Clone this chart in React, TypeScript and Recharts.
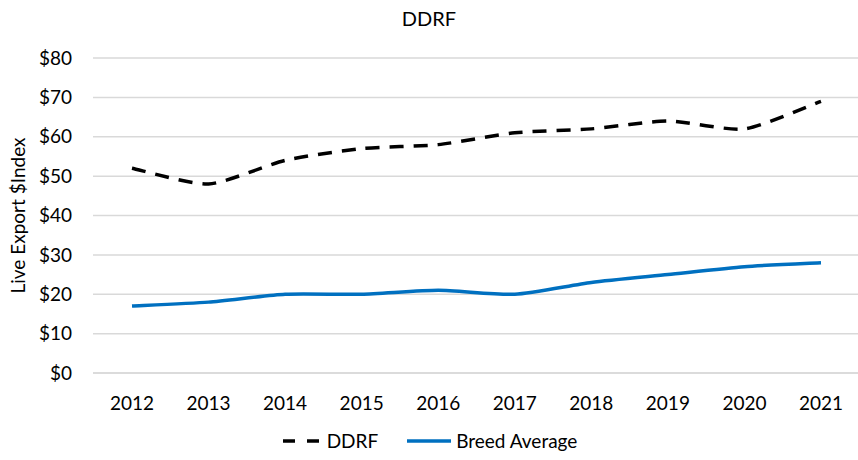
import { LineChart, Line, XAxis, YAxis, CartesianGrid } from 'recharts';

const years = ['2012', '2013', '2014', '2015', '2016', '2017', '2018', '2019', '2020', '2021'];
const ddrf = [52, 48, 54, 57, 58, 61, 62, 64, 62, 69];
const breedAverage = [17, 18, 20, 20, 21, 20, 23, 25, 27, 28];
const yTicks = [0, 10, 20, 30, 40, 50, 60, 70, 80];

const data = years.map((year, i) => ({ year, ddrf: ddrf[i], breed: breedAverage[i] }));

const FONT = 'Lato, "Liberation Sans", sans-serif';

// Excel-style smoothed line (light cardinal spline through every point)
const smoothCurve = (context: any) => {
  let pts: [number, number][] = [];
  let line = NaN;
  return {
    areaStart() { line = 0; },
    areaEnd() { line = NaN; },
    lineStart() { pts = []; },
    lineEnd() {
      if (!pts.length) return;
      context.moveTo(pts[0][0], pts[0][1]);
      const k = 0.11;
      for (let i = 0; i < pts.length - 1; i++) {
        const p0 = pts[Math.max(i - 1, 0)];
        const p1 = pts[i];
        const p2 = pts[i + 1];
        const p3 = pts[Math.min(i + 2, pts.length - 1)];
        context.bezierCurveTo(
          p1[0] + k * (p2[0] - p0[0]), p1[1] + k * (p2[1] - p0[1]),
          p2[0] - k * (p3[0] - p1[0]), p2[1] - k * (p3[1] - p1[1]),
          p2[0], p2[1]
        );
      }
      if (line === 0) context.closePath();
    },
    point(x: number, y: number) { pts.push([+x, +y]); },
  };
};

const ChartLegend = () => (
  <div style={{ position: 'absolute', top: 429, width: '100%', display: 'flex', justifyContent: 'center', alignItems: 'center', fontFamily: FONT, fontSize: 19, color: '#000' }}>
    <svg width={40} height={10} style={{ marginRight: 6 }}>
      <line x1={2} y1={5} x2={38} y2={5} stroke="#000" strokeWidth={3.5} strokeDasharray="12 12" />
    </svg>
    <span style={{ marginRight: 28 }}>DDRF</span>
    <svg width={46} height={10} style={{ marginRight: 4 }}>
      <line x1={1} y1={5} x2={45} y2={5} stroke="#0070C0" strokeWidth={3.5} />
    </svg>
    <span>Breed Average</span>
  </div>
);

const App = () => {
  return (
    <div style={{ position: 'absolute', left: 0, top: 0, width: 858, height: 460, background: '#fff' }}>
      <div style={{ position: 'absolute', top: 6, width: '100%', textAlign: 'center', fontFamily: FONT, fontSize: 20, color: '#000' }}>
        DDRF
      </div>
      <LineChart width={858} height={460} data={data} margin={{ top: 58, right: 0, left: 0, bottom: 40 }}>
        <CartesianGrid vertical={false} stroke="#D9D9D9" strokeWidth={1.5} />
        <XAxis
          dataKey="year"
          padding={{ left: 39, right: 37 }}
          axisLine={{ stroke: '#D9D9D9', strokeWidth: 1.5 }}
          tickLine={false}
          tickMargin={18}
          height={47}
          tick={{ fill: '#000', fontSize: 19, fontFamily: FONT }}
        />
        <YAxis
          domain={[0, 80]}
          ticks={yTicks}
          width={93}
          axisLine={false}
          tickLine={false}
          tickMargin={15}
          tickFormatter={(v) => `$${v}`}
          tick={{ fill: '#000', fontSize: 19, fontFamily: FONT }}
          label={{
            value: 'Live Export $Index',
            angle: -90,
            position: 'insideLeft',
            offset: 18,
            style: { textAnchor: 'middle', fill: '#000', fontSize: 19, fontFamily: FONT }
          }}
        />
        <Line
          type={smoothCurve as any}
          dataKey="ddrf"
          stroke="#000"
          strokeWidth={3.5}
          strokeDasharray="14 10"
          dot={false}
          isAnimationActive={false}
        />
        <Line
          type={smoothCurve as any}
          dataKey="breed"
          stroke="#0070C0"
          strokeWidth={3.5}
          dot={false}
          isAnimationActive={false}
        />
      </LineChart>
      <ChartLegend />
    </div>
  );
};

export default App;
